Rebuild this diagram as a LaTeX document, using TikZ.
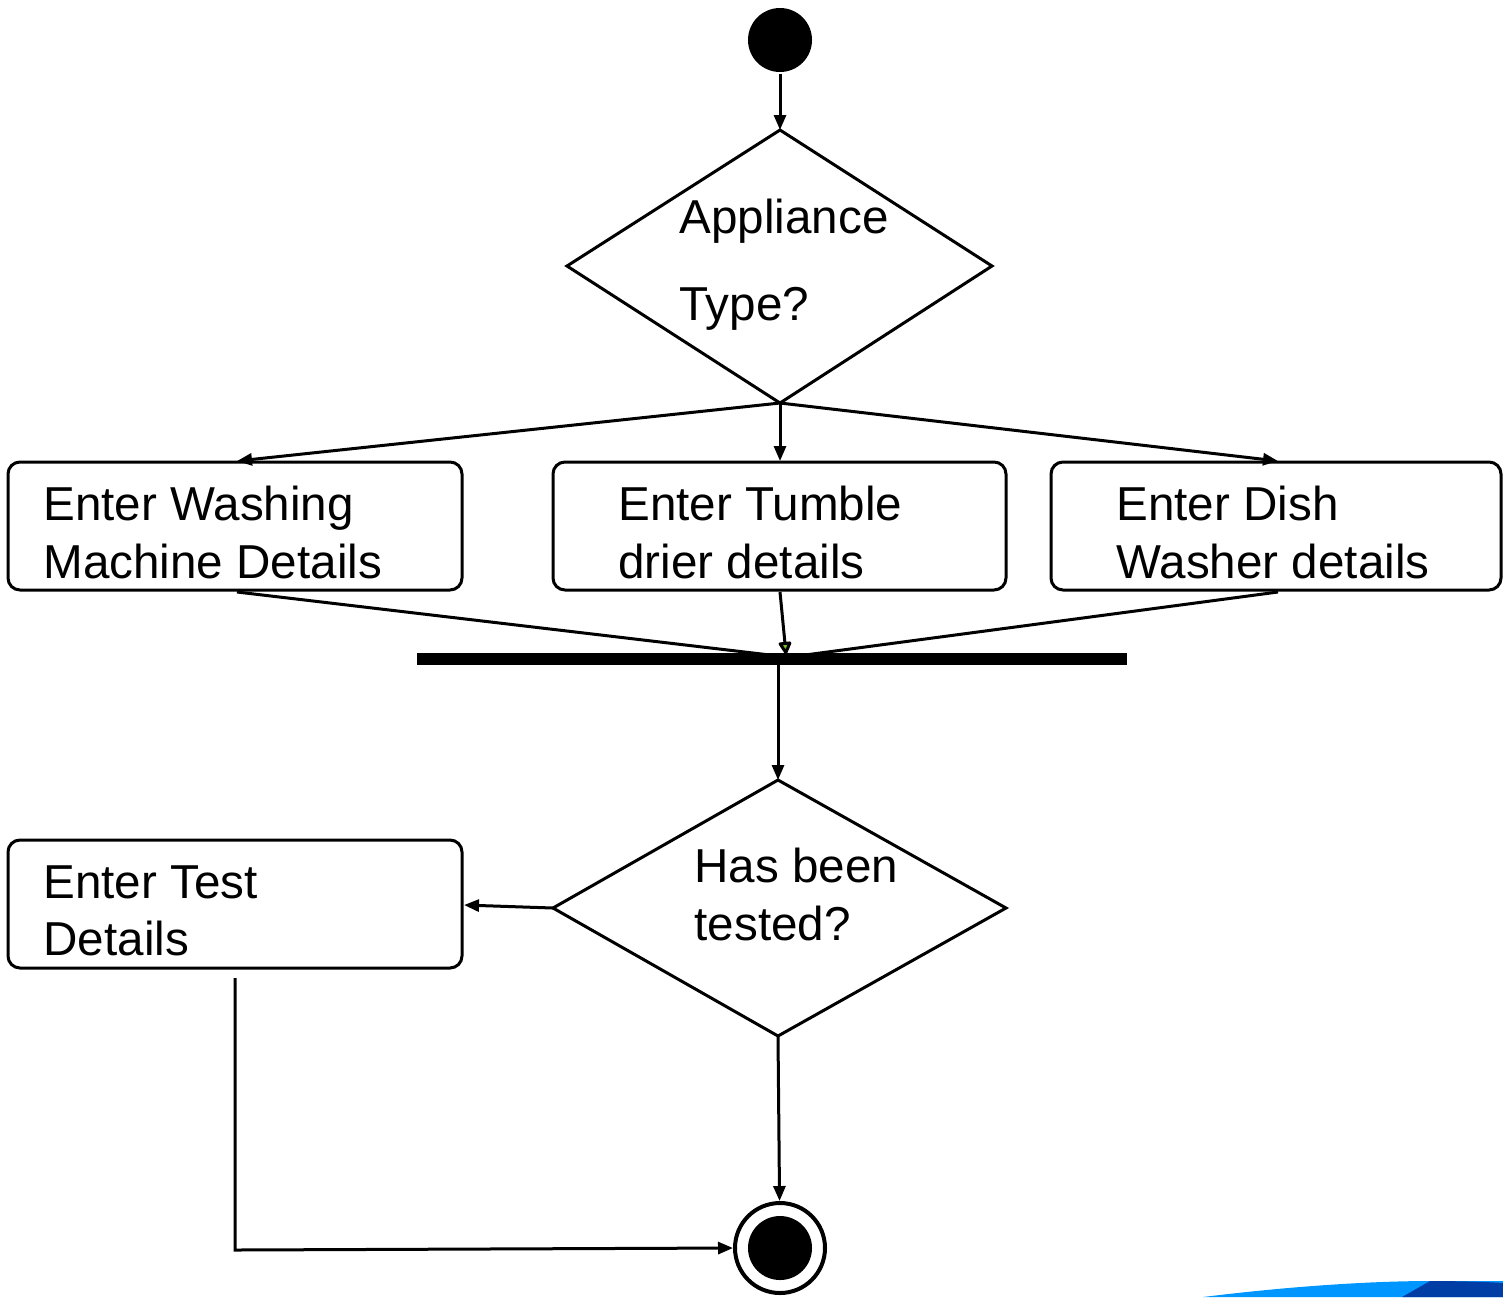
\documentclass[tikz,border=0pt]{standalone}
\usepackage{fontspec}
\setmainfont{Liberation Sans}
\usetikzlibrary{arrows.meta,shapes.geometric}
\definecolor{lblue}{RGB}{0,150,255}
\definecolor{dblue}{RGB}{0,61,165}
\definecolor{tipgreen}{RGB}{120,190,40}
\begin{document}
\begin{tikzpicture}[x=0.5pt,y=-0.5pt,
  line width=1.5pt,
  arr/.style={-{Triangle[length=7.5pt,width=6pt]}},
  box/.style={draw,rounded corners=6pt,line width=1.5pt},
  lbl/.style={anchor=base west,inner sep=0pt,font=\fontsize{23.8}{29}\selectfont}]
\useasboundingbox (0,0) rectangle (1503,1297);
% decoration bottom right
\fill[lblue] (1203,1297) .. controls (1300,1285) and (1380,1281) .. (1430,1281) -- (1503,1281) -- (1503,1297) -- cycle;
\fill[dblue] (1402,1297) -- (1430,1281) .. controls (1460,1281) and (1490,1282) .. (1503,1283) -- (1503,1297) -- cycle;
% start
\node (start) [circle,fill=black,minimum size=32pt,inner sep=0pt] at (780,40) {};
% diamond 1
\coordinate (d1t) at (780,130);
\coordinate (d1l) at (567,266);
\coordinate (d1r) at (992,266);
\coordinate (d1b) at (780,403);
\draw (d1t) -- (d1r) -- (d1b) -- (d1l) -- cycle;
\node (ap1) [lbl] at (678,233) {Appliance};
\node (ap2) [lbl] at (678,320) {Type?};
\draw[arr] (start) -- (d1t);
% boxes
\draw[box] (8,462) rectangle (462,590);
\draw[box] (553,462) rectangle (1006,590);
\draw[box] (1051,462) rectangle (1501,590);
\node (w1) [lbl] at (42,520) {Enter Washing};
\node (w2) [lbl] at (42,578) {Machine Details};
\node (t1) [lbl] at (617,520) {Enter Tumble};
\node (t2) [lbl] at (617,578) {drier details};
\node (s1) [lbl] at (1115,520) {Enter Dish};
\node (s2) [lbl] at (1115,578) {Washer details};
\coordinate (wtop) at (237,461);
\coordinate (ttop) at (780,461);
\coordinate (stop) at (1278,461);
\coordinate (wbot) at (237,592);
\coordinate (tbot) at (780,592);
\coordinate (sbot) at (1278,592);
\draw[arr] (d1b) -- (wtop);
\draw[arr] (d1b) -- (ttop);
\draw[arr] (d1b) -- (stop);
% join bar
\coordinate (barl) at (417,659);
\coordinate (barr) at (1127,659);
\draw[line width=6pt] (barl) -- (barr);
\coordinate (jl) at (770,655);
\coordinate (jm) at (786,654);
\coordinate (jr) at (805,655);
\coordinate (jb) at (778,665);
\draw (wbot) -- (jl);
\draw (sbot) -- (jr);
\draw[-{Triangle[length=7pt,width=7pt,round,fill=tipgreen]}] (tbot) -- (jm);
% diamond 2
\coordinate (d2t) at (778,780);
\coordinate (d2l) at (553,908);
\coordinate (d2r) at (1006,908);
\coordinate (d2b) at (778,1036);
\draw (d2t) -- (d2r) -- (d2b) -- (d2l) -- cycle;
\node (h1) [lbl] at (693,882) {Has been};
\node (h2) [lbl] at (693,940) {tested?};
\draw[arr] (jb) -- (d2t);
% test box
\draw[box] (8,840) rectangle (462,968);
\node (e1) [lbl] at (42,898) {Enter Test};
\node (e2) [lbl] at (42,955) {Details};
\coordinate (tbright) at (464,905);
\draw[arr] (d2l) -- (tbright);
% final
\node (fin) [circle,draw,line width=2pt,minimum size=45pt,inner sep=0pt] at (780,1248) {};
\node (fini) [circle,fill=black,minimum size=32pt,inner sep=0pt] at (780,1248) {};
\draw[arr] (d2b) -- (fin);
\coordinate (tbb) at (235,978);
\coordinate (corner) at (235,1250);
\draw[arr] (tbb) -- (corner) -- (fin.west);
\end{tikzpicture}
\end{document}
